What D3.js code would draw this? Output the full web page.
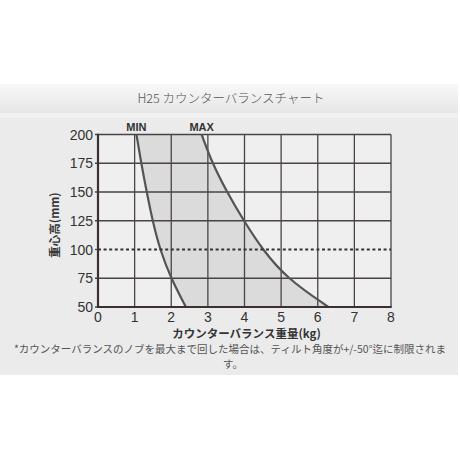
<!DOCTYPE html>
<html>
<head>
<meta charset="utf-8">
<script src="https://cdn.jsdelivr.net/npm/d3@7"></script>
<style>
  html, body { margin: 0; padding: 0; background: #fff; }
  svg { display: block; }
</style>
</head>
<body>
<svg id="chart"></svg>
<script>
(function () {

    // Data
    const heights = [50, 75, 100, 125, 150, 175, 200];          // 重心高 (mm)
    const minWeight = [2.40, 1.99, 1.69, 1.49, 1.33, 1.18, 1.05]; // MIN (kg)
    const maxWeight = [6.29, 5.15, 4.49, 3.98, 3.52, 3.12, 2.83]; // MAX (kg)
    const xTicks = [0, 1, 2, 3, 4, 5, 6, 7, 8];
    const yTicks = [50, 75, 100, 125, 150, 175, 200];
    const refHeight = 100;

    const titleText = "H25 カウンターバランスチャート";
    const xLabel = "カウンターバランス重量(kg)";
    const yLabel = "重心高(mm)";
    const note1 = "*カウンターバランスのノブを最大まで回した場合は、ティルト角度が+/-50°迄に制限されま";
    const note2 = "す。";

    const width = 460, height = 460;
    const tickFont = "'Liberation Sans', Arial, sans-serif";
    const jpFont = "'Noto Sans CJK JP', 'Noto Sans', sans-serif";

    const svg = d3.select("#chart")
        .attr("width", width)
        .attr("height", height);

    // Header band with a soft gradient
    const defs = svg.append("defs");
    const grad = defs.append("linearGradient")
        .attr("id", "hdr")
        .attr("x1", 0).attr("y1", 0).attr("x2", 0).attr("y2", 1);
    grad.append("stop").attr("offset", "0%").attr("stop-color", "#f8f8f8");
    grad.append("stop").attr("offset", "100%").attr("stop-color", "#e6e6e6");

    svg.append("rect")
        .attr("x", 0).attr("y", 84).attr("width", 458).attr("height", 29)
        .attr("fill", "url(#hdr)");
    svg.append("rect")
        .attr("x", 0).attr("y", 113).attr("width", 458).attr("height", 5)
        .attr("fill", "#f1f1f1");
    svg.append("rect")
        .attr("x", 0).attr("y", 118).attr("width", 458).attr("height", 257)
        .attr("fill", "#ebebeb");

    svg.append("text")
        .attr("x", 231).attr("y", 103)
        .attr("text-anchor", "middle")
        .attr("font-family", jpFont)
        .attr("font-size", 12.5)
        .attr("font-weight", 300)
        .attr("fill", "#555")
        .text(titleText);

    // Scales
    const x = d3.scaleLinear().domain([0, 8]).range([98, 391]);
    const y = d3.scaleLinear().domain([50, 200]).range([307, 134.5]);

    const g = svg.append("g");

    // Plot background
    g.append("rect")
        .attr("x", x(0)).attr("y", y(200))
        .attr("width", x(8) - x(0)).attr("height", y(50) - y(200))
        .attr("fill", "#efefef");

    const rows = heights.map((h, i) => ({ h: h, lo: minWeight[i], hi: maxWeight[i] }));

    // Shaded band between MIN and MAX
    const band = d3.area()
        .y((d) => y(d.h))
        .x0((d) => x(d.lo))
        .x1((d) => x(d.hi))
        .curve(d3.curveBasis);

    g.append("path")
        .datum(rows)
        .attr("d", band)
        .attr("fill", "#dbdbdb");

    // Grid
    g.selectAll(".vgrid")
        .data(xTicks)
        .enter().append("line")
        .attr("class", "vgrid")
        .attr("x1", (d) => x(d)).attr("x2", (d) => x(d))
        .attr("y1", y(200)).attr("y2", y(50))
        .attr("stroke", "#4a4343")
        .attr("stroke-width", 1.3);

    g.selectAll(".hgrid")
        .data(yTicks.filter((d) => d !== refHeight))
        .enter().append("line")
        .attr("class", "hgrid")
        .attr("x1", x(0) - 3).attr("x2", x(8))
        .attr("y1", (d) => y(d)).attr("y2", (d) => y(d))
        .attr("stroke", "#4a4343")
        .attr("stroke-width", 1.3);

    // MIN / MAX curves
    const lineMin = d3.line()
        .x((d) => x(d.lo))
        .y((d) => y(d.h))
        .curve(d3.curveBasis);
    const lineMax = d3.line()
        .x((d) => x(d.hi))
        .y((d) => y(d.h))
        .curve(d3.curveBasis);

    g.append("path")
        .datum(rows)
        .attr("d", lineMin)
        .attr("fill", "none")
        .attr("stroke", "#545454")
        .attr("stroke-width", 2.2);
    g.append("path")
        .datum(rows)
        .attr("d", lineMax)
        .attr("fill", "none")
        .attr("stroke", "#545454")
        .attr("stroke-width", 2.2);

    // Dotted reference line at 100mm
    g.append("line")
        .attr("x1", x(0)).attr("x2", x(8))
        .attr("y1", y(refHeight)).attr("y2", y(refHeight))
        .attr("stroke", "#333")
        .attr("stroke-width", 2)
        .attr("stroke-dasharray", "3,2.6");
    g.append("line")
        .attr("x1", x(0) - 3).attr("x2", x(0))
        .attr("y1", y(refHeight)).attr("y2", y(refHeight))
        .attr("stroke", "#4a4343")
        .attr("stroke-width", 1.3);

    // Axis lines
    g.append("line")
        .attr("x1", x(0)).attr("x2", x(0))
        .attr("y1", y(200) - 0.7).attr("y2", y(50) + 1)
        .attr("stroke", "#3a3232")
        .attr("stroke-width", 2.2);
    g.append("line")
        .attr("x1", x(0) - 1).attr("x2", x(8) + 0.7)
        .attr("y1", y(50)).attr("y2", y(50))
        .attr("stroke", "#3a3232")
        .attr("stroke-width", 2.2);

    // Tick labels
    g.selectAll(".ylab")
        .data(yTicks)
        .enter().append("text")
        .attr("class", "ylab")
        .attr("x", x(0) - 5)
        .attr("y", (d) => y(d))
        .attr("dy", "0.36em")
        .attr("text-anchor", "end")
        .attr("font-family", tickFont)
        .attr("font-size", 14)
        .attr("fill", "#333")
        .text((d) => d);

    g.selectAll(".xlab")
        .data(xTicks)
        .enter().append("text")
        .attr("class", "xlab")
        .attr("x", (d) => x(d))
        .attr("y", y(50) + 15)
        .attr("text-anchor", "middle")
        .attr("font-family", tickFont)
        .attr("font-size", 14)
        .attr("fill", "#333")
        .text((d) => d);

    // Curve names
    g.append("text")
        .attr("x", x(minWeight[minWeight.length - 1]))
        .attr("y", y(200) - 4)
        .attr("text-anchor", "middle")
        .attr("font-family", tickFont)
        .attr("font-size", 11)
        .attr("font-weight", "bold")
        .attr("fill", "#333")
        .text("MIN");
    g.append("text")
        .attr("x", x(maxWeight[maxWeight.length - 1]))
        .attr("y", y(200) - 4)
        .attr("text-anchor", "middle")
        .attr("font-family", tickFont)
        .attr("font-size", 11)
        .attr("font-weight", "bold")
        .attr("fill", "#333")
        .text("MAX");

    // Axis titles
    g.append("text")
        .attr("x", (x(0) + x(8)) / 2 + 2)
        .attr("y", y(50) + 31)
        .attr("text-anchor", "middle")
        .attr("font-family", jpFont)
        .attr("font-size", 11.5)
        .attr("font-weight", "bold")
        .attr("fill", "#333")
        .text(xLabel);

    g.append("text")
        .attr("transform", "translate(59," + 225 + ") rotate(-90)")
        .attr("text-anchor", "middle")
        .attr("font-family", jpFont)
        .attr("font-size", 11.5)
        .attr("font-weight", "bold")
        .attr("fill", "#333")
        .text(yLabel);

    // Footnote
    svg.append("text")
        .attr("x", 230).attr("y", 353)
        .attr("text-anchor", "middle")
        .attr("font-family", jpFont)
        .attr("font-size", 10.5)
        .attr("fill", "#555")
        .text(note1);
    svg.append("text")
        .attr("x", 233).attr("y", 368)
        .attr("text-anchor", "middle")
        .attr("font-family", jpFont)
        .attr("font-size", 10.5)
        .attr("fill", "#555")
        .text(note2);
})();
</script>
</body>
</html>
